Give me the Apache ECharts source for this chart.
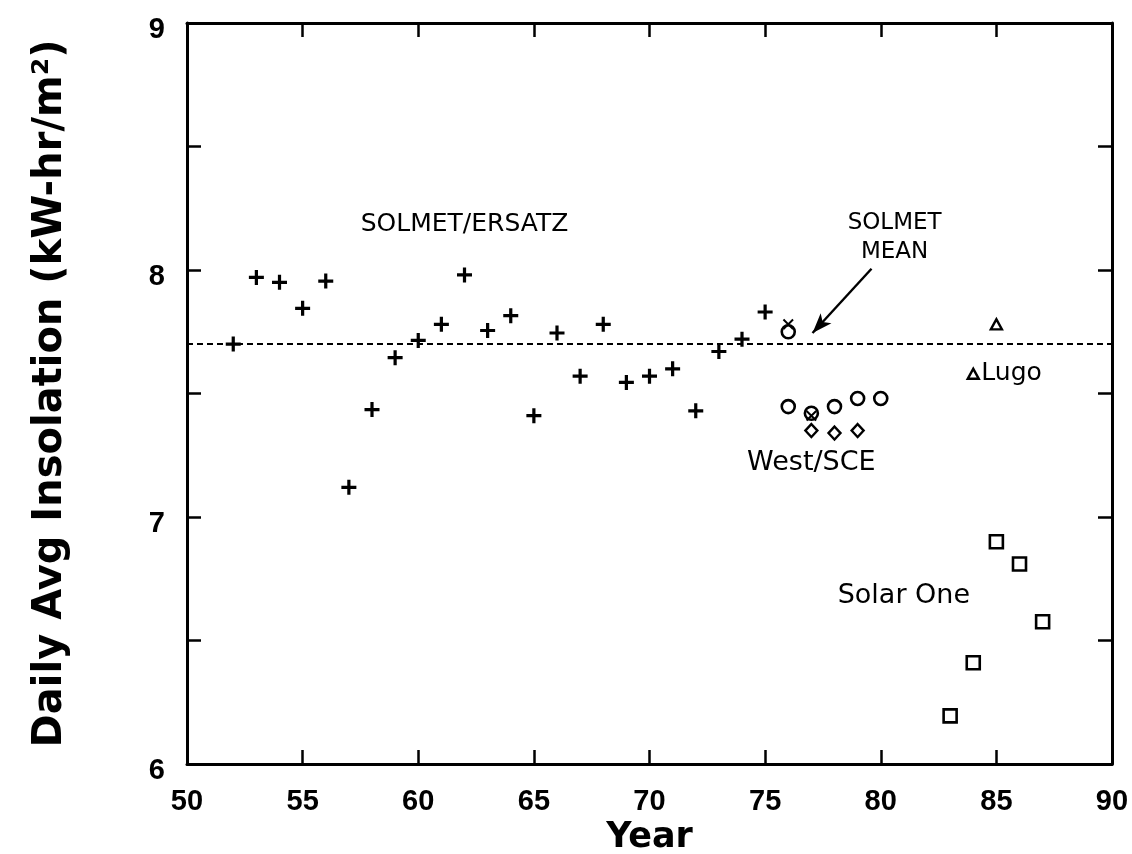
<!DOCTYPE html>
<html>
<head>
<meta charset="utf-8">
<script src="https://cdn.jsdelivr.net/npm/echarts@6/dist/echarts.min.js"></script>
<style>html,body{margin:0;padding:0;background:#fff;}#chart{width:1132px;height:854px;}</style>
</head>
<body>
<div id="chart"></div>
<script>
// ---- data ----
var solmetYears  = [52,53,54,55,56,57,58,59,60,61,62,63,64,65,66,67,68,69,70,71,72,73,74,75];
var solmetValues = [7.70,7.97,7.95,7.845,7.955,7.12,7.435,7.645,7.715,7.78,7.98,7.755,7.815,7.41,7.745,7.57,7.78,7.545,7.57,7.60,7.43,7.67,7.72,7.83];
var circleYears  = [76,76,77,78,79,80];
var circleValues = [7.75,7.447,7.42,7.447,7.48,7.48];
var crossYears   = [76,77];
var crossValues  = [7.78,7.41];
var diamondYears = [77,78,79];
var diamondValues= [7.35,7.34,7.35];
var lugoYears    = [84,85];
var lugoValues   = [7.58,7.78];
var solarOneYears  = [83,84,85,86,87];
var solarOneValues = [6.195,6.41,6.90,6.81,6.576];
var solmetMean = 7.70;
var xTicks = [50,55,60,65,70,75,80,85,90];
var yTicks = [6,7,8,9];
// annotations: [year, value, text]
var annotations = [
  [62.0, 8.185, 'SOLMET/ERSATZ'],
  [80.6, 8.13, 'SOLMET\nMEAN'],
  [77.0, 7.22, 'West/SCE'],
  [81.0, 6.68, 'Solar One']
];
var lugoLabel = [84.35, 7.58, 'Lugo'];
var arrowFrom = [79.6, 8.005];
var arrowTo   = [77.05, 7.745];

function pairs(xs, ys){ return xs.map(function(x,i){ return [x, ys[i]]; }); }

var plusPath  = 'path://M-1.5,-7 L1.5,-7 L1.5,-1.5 L7,-1.5 L7,1.5 L1.5,1.5 L1.5,7 L-1.5,7 L-1.5,1.5 L-7,1.5 L-7,-1.5 L-1.5,-1.5 Z';
var crossPath = 'path://M-7,-5.2 L-5.2,-7 L7,5.2 L5.2,7 Z M5.2,-7 L7,-5.2 L-5.2,7 L-7,5.2 Z';

var tickFont = {fontFamily:'Liberation Sans', fontWeight:'bold', fontSize:29, color:'#000'};
var annFont = 'DejaVu Sans';
var hollow = {color:'rgba(255,255,255,0)', borderColor:'#000', opacity:1};

var chart = echarts.init(document.getElementById('chart'), null, {renderer:'canvas'});
var axisLine = {show:true, lineStyle:{color:'#000', width:3}};
var tick = {show:true, inside:true, length:14, lineStyle:{color:'#000', width:2.5}};
var option = {
  animation:false,
  backgroundColor:'#fff',
  grid:{left:187, right:20, top:23, bottom:90, show:false, containLabel:false, outerBoundsMode:'none'},
  xAxis:[{
    type:'value', min:50, max:90, interval:5, position:'bottom',
    axisLine:axisLine, axisTick:tick,
    axisLabel:Object.assign({margin:23, formatter:function(v){ return xTicks.indexOf(v)>=0 ? String(v) : ''; }}, tickFont),
    splitLine:{show:false},
    name:'Year', nameLocation:'middle', nameGap:32,
    nameTextStyle:{fontFamily:'DejaVu Sans', fontWeight:'bold', fontSize:35, color:'#000'}
  },{
    type:'value', min:50, max:90, interval:5, position:'top',
    axisLine:axisLine, axisTick:tick,
    axisLabel:{show:false}, splitLine:{show:false}
  }],
  yAxis:[{
    type:'value', min:6, max:9, interval:0.5, position:'left',
    axisLine:axisLine, axisTick:tick,
    axisLabel:Object.assign({margin:22, verticalAlign:'top', lineHeight:14, formatter:function(v){ return yTicks.indexOf(v)>=0 ? String(v) : ''; }}, tickFont),
    splitLine:{show:false},
    name:'Daily Avg Insolation (kW-hr/m²)', nameLocation:'middle', nameGap:116, nameRotate:90,
    nameTextStyle:{fontFamily:'DejaVu Sans', fontWeight:'bold', fontSize:40, color:'#000'}
  },{
    type:'value', min:6, max:9, interval:0.5, position:'right',
    axisLine:axisLine, axisTick:tick,
    axisLabel:{show:false}, splitLine:{show:false}
  }],
  series:[
    {
      name:'SOLMET/ERSATZ', type:'scatter', symbol:plusPath, symbolSize:15,
      itemStyle:{color:'#000', opacity:1}, data:pairs(solmetYears, solmetValues),
      markLine:{
        silent:true, symbol:'none', label:{show:false},
        lineStyle:{color:'#000', type:[6,4], width:2, opacity:1},
        data:[{yAxis:solmetMean}]
      }
    },
    {
      name:'West/SCE circles', type:'scatter', symbol:'circle', symbolSize:13,
      itemStyle:Object.assign({borderWidth:2.6}, hollow),
      data:pairs(circleYears, circleValues)
    },
    {
      name:'West/SCE diamonds', type:'scatter', symbol:'diamond', symbolSize:[12,13],
      itemStyle:Object.assign({borderWidth:2.4}, hollow),
      data:pairs(diamondYears, diamondValues)
    },
    {
      name:'Cross', type:'scatter', symbol:crossPath, symbolSize:11,
      itemStyle:{color:'#000', opacity:1}, data:pairs(crossYears, crossValues)
    },
    {
      name:'Lugo', type:'scatter', symbol:'triangle', symbolSize:[11,10],
      itemStyle:Object.assign({borderWidth:2.4}, hollow),
      data:pairs(lugoYears, lugoValues)
    },
    {
      name:'Solar One', type:'scatter', symbol:'rect', symbolSize:13,
      itemStyle:Object.assign({borderWidth:2.6}, hollow),
      data:pairs(solarOneYears, solarOneValues)
    },
    {
      name:'annotations', type:'scatter', symbolSize:0, silent:true,
      itemStyle:{opacity:1},
      data:annotations.map(function(a, i){
        return {value:[a[0],a[1]], label:{formatter:a[2], fontSize:[25,23,27,27][i]}};
      }),
      label:{show:true, position:'inside', fontFamily:annFont, color:'#000', lineHeight:29, align:'center', verticalAlign:'middle', opacity:1},
      markLine:{
        silent:true, label:{show:false},
        symbol:['none','arrow'], symbolSize:[11,20],
        lineStyle:{color:'#000', type:'solid', width:2.4, opacity:1},
        data:[[{coord:arrowFrom},{coord:arrowTo}]]
      }
    },
    {
      name:'lugoLabel', type:'scatter', symbolSize:0, silent:true,
      itemStyle:{opacity:1},
      data:[{value:[lugoLabel[0], lugoLabel[1]], label:{formatter:lugoLabel[2]}}],
      label:{show:true, position:'right', distance:0, fontFamily:annFont, fontSize:25, color:'#000', opacity:1}
    }
  ]
};
chart.setOption(option);
</script>
</body>
</html>
